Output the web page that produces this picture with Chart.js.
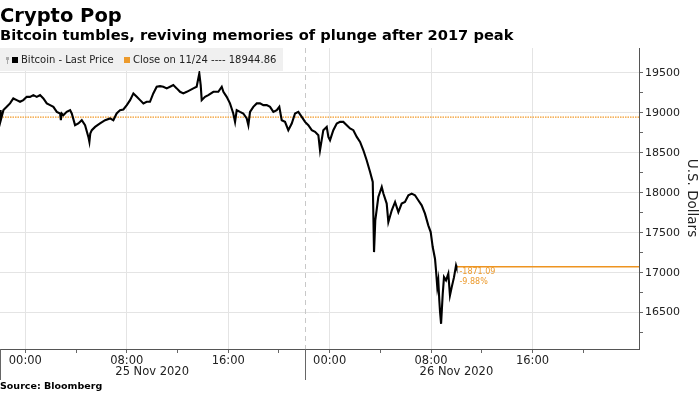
<!DOCTYPE html>
<html>
<head>
<meta charset="utf-8">
<script src="https://cdn.jsdelivr.net/npm/chart.js@4/dist/chart.umd.min.js"></script>
<style>
html,body{margin:0;padding:0;background:#fff}
</style>
</head>
<body>
<canvas id="chart" width="700" height="394"></canvas>
<script>
// hours from 25 Nov 2020 00:00
var hours = [-2.0,-1.95,-1.73,-1.47,-1.21,-0.95,-0.68,-0.42,-0.16,0.11,0.37,0.63,0.9,1.16,1.42,1.69,1.95,2.21,2.48,2.74,2.8,2.87,3.0,3.26,3.53,3.66,3.92,4.18,4.45,4.71,4.97,5.05,5.12,5.24,5.5,5.89,6.29,6.68,6.94,7.2,7.47,7.73,8.0,8.26,8.52,8.79,9.05,9.31,9.57,9.83,10.09,10.36,10.62,10.88,11.15,11.41,11.67,11.94,12.2,12.46,12.73,12.99,13.25,13.51,13.72,13.83,13.91,14.17,14.43,14.83,15.22,15.49,15.62,15.88,16.14,16.4,16.54,16.67,16.93,17.19,17.46,17.59,17.72,17.98,18.25,18.51,18.77,19.04,19.3,19.56,19.83,20.03,20.22,20.48,20.74,21.01,21.27,21.53,21.8,22.06,22.32,22.59,22.85,23.11,23.24,23.5,23.77,23.9,24.03,24.29,24.56,24.82,25.08,25.35,25.61,25.87,26.14,26.4,26.66,26.92,27.19,27.4,27.5,27.6,27.84,28.11,28.24,28.5,28.63,28.9,29.16,29.42,29.68,29.94,30.21,30.47,30.73,30.99,31.26,31.52,31.78,31.97,32.13,32.31,32.39,32.49,32.57,32.65,32.71,32.79,32.92,33.02,33.18,33.36,33.49,33.63,33.81,33.97,34.0];
var prices = [19033,18900,19033,19074,19117,19179,19158,19137,19158,19199,19199,19221,19199,19221,19179,19117,19095,19074,19011,18991,18907,18991,18970,19011,19033,18991,18845,18866,18907,18845,18698,18635,18740,18782,18823,18866,18907,18929,18907,18991,19033,19041,19095,19158,19242,19199,19158,19117,19137,19137,19242,19325,19333,19325,19305,19325,19346,19305,19262,19242,19262,19283,19305,19325,19492,19346,19158,19199,19221,19262,19262,19325,19262,19199,19117,18991,18886,19033,19011,18991,18929,18845,19011,19074,19117,19117,19095,19095,19074,19011,19033,19074,18907,18886,18782,18866,18991,19011,18949,18886,18845,18782,18761,18719,18531,18782,18823,18698,18657,18782,18866,18886,18886,18845,18803,18782,18698,18635,18531,18406,18260,18134,17257,17654,17946,18072,17989,17864,17633,17780,17884,17758,17864,17884,17968,17989,17968,17905,17842,17738,17592,17508,17320,17174,17028,16819,16903,16652,16505,16360,16736,16944,16903,16986,16715,16819,16944,17090,17074];

var closePrev = 18944.86;
var lastPrice = 17073.77;
var changeLabels = ['-1871.09', '-9.88%'];
var xTicks = [0,4,8,12,16,20,24,28,32,36,40,44];
var yTicks = [16250,16500,16750,17000,17250,17500,17750,18000,18250,18500,18750,19000,19250,19500];
var dayLabels = ['25 Nov 2020', '26 Nov 2020'];
var dayLabelHours = [10, 34];
var daySplitHour = 22.06;

var ORANGE = '#ec9a2c';

var pts = [];
for (var i = 0; i < hours.length; i++) {
  pts.push({x: hours[i], y: prices[i]});
}

function pad2(n){ return (n < 10 ? '0' : '') + n; }

var decor = {
  id: 'decor',
  beforeDraw: function(chart){
    var c = chart.ctx;
    c.save();
    c.fillStyle = '#fff';
    c.fillRect(0, 0, chart.width, chart.height);
    c.fillStyle = '#000';
    c.textBaseline = 'alphabetic';
    c.font = 'bold 19.5px "DejaVu Sans"';
    c.fillText('Crypto Pop', 0, 22);
    c.font = 'bold 14.65px "DejaVu Sans"';
    c.fillText('Bitcoin tumbles, reviving memories of plunge after 2017 peak', 0, 40);
    c.restore();
  },
  beforeDatasetsDraw: function(chart){
    var c = chart.ctx, a = chart.chartArea;
    var xs = chart.scales.x, ys = chart.scales.y;
    c.save();
    // day split dashed line
    var sx = Math.round(xs.getPixelForValue(daySplitHour)) + 0.5;
    c.strokeStyle = '#c8c8c8';
    c.lineWidth = 1;
    c.setLineDash([5, 4]);
    c.beginPath(); c.moveTo(sx, a.top); c.lineTo(sx, a.bottom); c.stroke();
    // previous close dotted
    var cy = ys.getPixelForValue(closePrev);
    c.strokeStyle = '#f29a2a';
    c.lineWidth = 1.4;
    c.setLineDash([1.5, 1]);
    c.beginPath(); c.moveTo(a.left, cy); c.lineTo(a.right, cy); c.stroke();
    // last price line
    c.setLineDash([]);
    var ly = ys.getPixelForValue(lastPrice);
    var lx = xs.getPixelForValue(hours[hours.length - 1]);
    c.strokeStyle = '#ee9420';
    c.lineWidth = 1.3;
    c.beginPath(); c.moveTo(lx, ly); c.lineTo(a.right, ly); c.stroke();
    c.restore();
  },
  afterDraw: function(chart){
    var c = chart.ctx, a = chart.chartArea;
    var xs = chart.scales.x, ys = chart.scales.y;
    c.save();
    // change labels
    var lx = xs.getPixelForValue(hours[hours.length - 1]) + 3;
    var ly = ys.getPixelForValue(lastPrice);
    c.fillStyle = ORANGE;
    c.font = '8px "DejaVu Sans"';
    c.textBaseline = 'middle';
    c.fillText(changeLabels[0], lx, ly + 5);
    c.fillText(changeLabels[1], lx, ly + 15);

    // legend box
    c.fillStyle = '#f0f0f0';
    c.fillRect(0, 48, 283, 23);
    c.fillStyle = '#aaa';
    c.fillRect(6, 57, 3, 3);
    c.fillRect(7, 60, 1, 4);
    c.fillStyle = '#000';
    c.fillRect(12, 57, 6, 6);
    c.fillStyle = ORANGE;
    c.fillRect(124, 57, 6, 6);
    c.fillStyle = '#222';
    c.font = '10px "DejaVu Sans"';
    c.textBaseline = 'middle';
    c.fillText('Bitcoin - Last Price', 21, 60);
    c.fillText('Close on 11/24 ---- 18944.86', 133, 60);

    // day separators under axis
    var sx = Math.round(xs.getPixelForValue(daySplitHour)) + 0.5;
    c.strokeStyle = '#666';
    c.lineWidth = 1;
    c.beginPath();
    c.moveTo(sx, a.bottom); c.lineTo(sx, 380);
    c.moveTo(0.5, a.bottom); c.lineTo(0.5, 380);
    c.stroke();

    // date labels
    c.fillStyle = '#222';
    c.font = '11.5px "DejaVu Sans"';
    c.textAlign = 'center';
    for (var i = 0; i < dayLabels.length; i++) {
      c.fillText(dayLabels[i], xs.getPixelForValue(dayLabelHours[i]), 372);
    }

    // source
    c.textAlign = 'left';
    c.fillStyle = '#000';
    c.font = 'bold 9.5px "DejaVu Sans"';
    c.fillText('Source: Bloomberg', 0, 387);

    // y title
    c.translate(691, 198);
    c.rotate(Math.PI / 2);
    c.textAlign = 'center';
    c.fillStyle = '#222';
    c.font = '13.5px "DejaVu Sans"';
    c.fillText('U.S. Dollars', 0, 0);
    c.restore();
  }
};

var config = {
  type: 'line',
  data: {
    datasets: [{
      label: 'Bitcoin - Last Price',
      data: pts,
      borderColor: '#000',
      borderWidth: 2.1,
      pointRadius: 0,
      tension: 0,
      fill: false
    }]
  },
  options: {
    responsive: false,
    animation: false,
    devicePixelRatio: 1,
    layout: { padding: { top: 48, left: 0, right: 0, bottom: 0 } },
    plugins: { legend: { display: false }, tooltip: { enabled: false } },
    scales: {
      x: {
        type: 'linear',
        position: 'bottom',
        min: -2,
        max: 48.4,
        afterBuildTicks: function(s){ s.ticks = xTicks.map(function(v){ return {value: v}; }); },
        afterFit: function(s){ s.height = 45; },
        ticks: {
          autoSkip: false,
          maxRotation: 0,
          padding: 1,
          color: '#222',
          font: { family: 'DejaVu Sans', size: 11.5 },
          callback: function(v){ return v % 8 === 0 ? pad2(v % 24) + ':00' : ''; }
        },
        grid: {
          color: function(ctx){ return ctx.tick && ctx.tick.value % 8 === 0 ? '#e4e4e4' : 'rgba(0,0,0,0)'; },
          tickColor: '#666',
          tickLength: 4
        },
        border: { color: '#555' }
      },
      y: {
        position: 'right',
        min: 16045,
        max: 19810,
        afterBuildTicks: function(s){ s.ticks = yTicks.map(function(v){ return {value: v}; }); },
        afterFit: function(s){ s.width = 61; },
        ticks: {
          padding: 2,
          color: '#222',
          font: { family: 'DejaVu Sans', size: 11 },
          callback: function(v){ return v % 500 === 0 ? String(v) : ''; }
        },
        grid: {
          color: function(ctx){ return ctx.tick && ctx.tick.value % 500 === 0 ? '#e4e4e4' : 'rgba(0,0,0,0)'; },
          tickColor: '#666',
          tickLength: 4
        },
        border: { color: '#555' }
      }
    }
  },
  plugins: [decor]
};

var ctx = document.getElementById('chart');
var myChart = new Chart(ctx, config);
</script>
</body>
</html>
